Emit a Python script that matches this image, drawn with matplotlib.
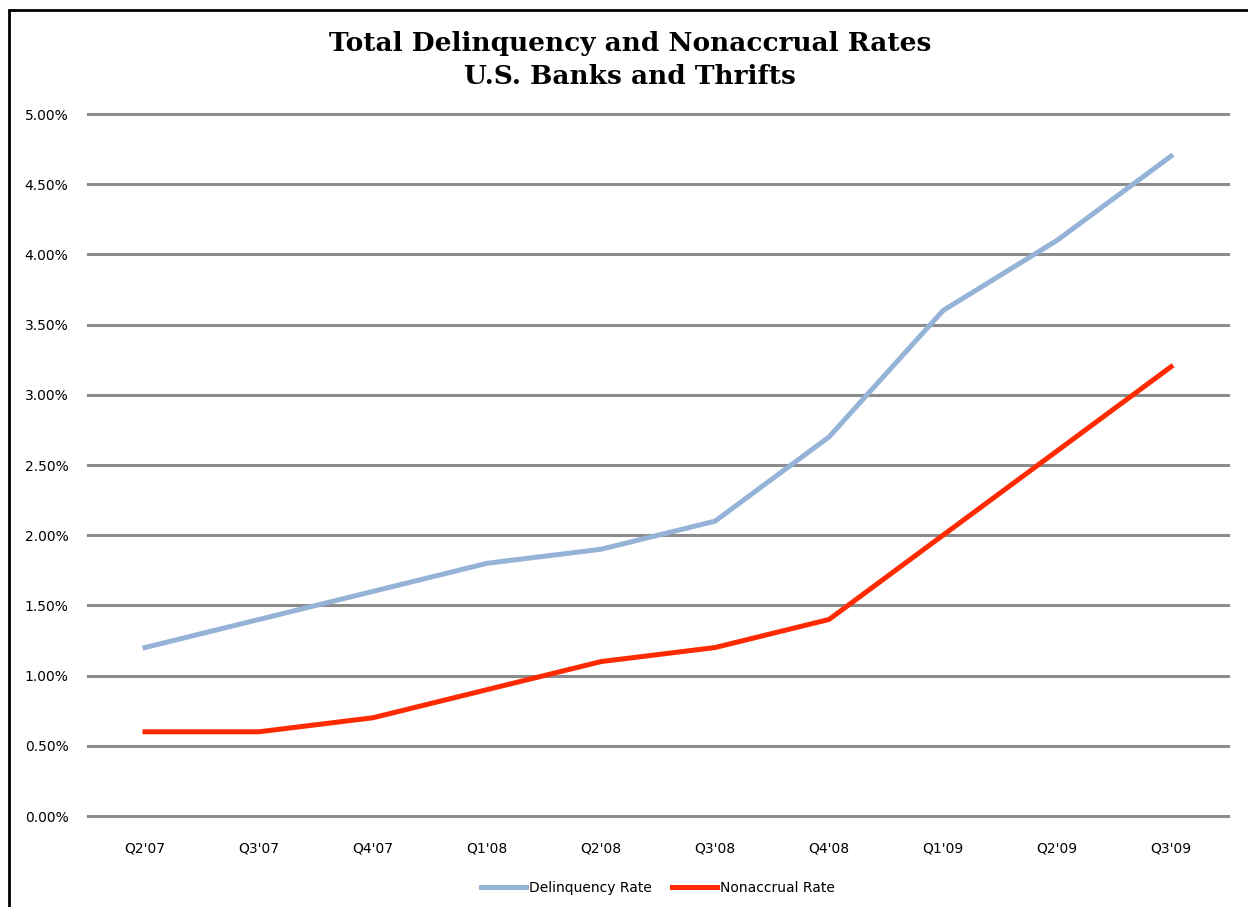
import numpy as np
import matplotlib.pyplot as plt
from matplotlib.patches import Rectangle
from matplotlib.ticker import FuncFormatter

quarters = ["Q2'07", "Q3'07", "Q4'07", "Q1'08", "Q2'08", "Q3'08", "Q4'08", "Q1'09", "Q2'09", "Q3'09"]
delinquency = [1.2, 1.4, 1.6, 1.8, 1.9, 2.1, 2.7, 3.6, 4.1, 4.7]
nonaccrual = [0.6, 0.6, 0.7, 0.9, 1.1, 1.2, 1.4, 2.0, 2.6, 3.2]
y_ticks = np.arange(0, 5.01, 0.5)

fig = plt.figure(figsize=(12.48, 9.07), dpi=100)
ax = fig.add_axes([0.0705, 0.1003, 0.9135, 0.774])

# outer chart frame (left and top edges visible)
fig.patches.append(Rectangle((0.007, -0.05), 1.1, 1.039, transform=fig.transFigure,
                             fill=False, edgecolor='black', linewidth=2))

x = np.arange(len(quarters))
ax.plot(x, delinquency, color='#95B3D7', linewidth=3.6, label='Delinquency Rate', zorder=3)
ax.plot(x, nonaccrual, color='#FF2A00', linewidth=3.6, label='Nonaccrual Rate', zorder=3)

ax.set_xlim(-0.5, len(quarters) - 0.5)
ax.set_ylim(0, 5)
ax.set_yticks(y_ticks)
ax.yaxis.set_major_formatter(FuncFormatter(lambda v, p: '%.2f%%' % v))
ax.set_xticks(x)
ax.set_xticklabels(quarters)
ax.tick_params(length=0, labelsize=10, colors='black')
ax.tick_params(axis='x', pad=18)
ax.tick_params(axis='y', pad=14)
ax.grid(axis='y', color='#8c8c8c', linewidth=2.2)
for gl in ax.get_ygridlines():
    gl.set_clip_on(False)
ax.set_axisbelow(True)
for s in ax.spines.values():
    s.set_visible(False)

fig.text(0.505, 0.934, 'Total Delinquency and Nonaccrual Rates\nU.S. Banks and Thrifts',
         ha='center', va='center', fontsize=19, fontweight='bold', family='DejaVu Serif',
         linespacing=1.4)

ax.legend(loc='upper center', bbox_to_anchor=(0.5, -0.075), ncol=2, frameon=False,
          fontsize=10, handlelength=3.2, columnspacing=1.5, handletextpad=0.2)

fig.savefig('out.png', dpi=100)
